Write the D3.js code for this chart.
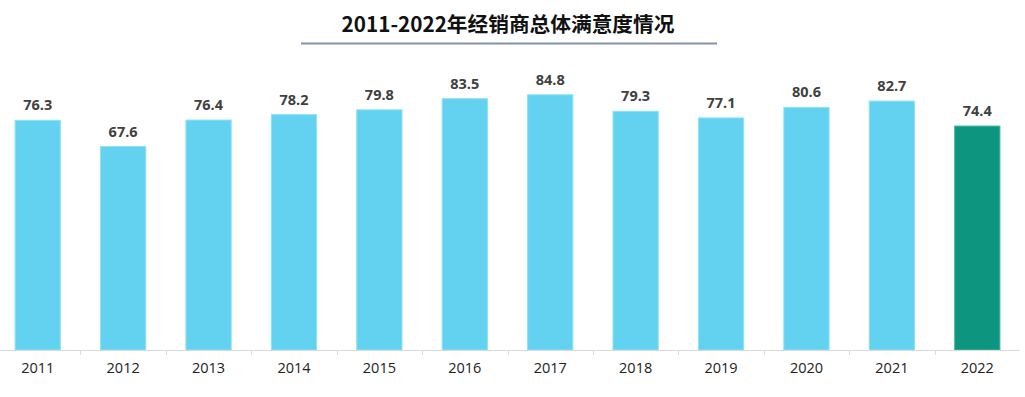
<!DOCTYPE html>
<html>
<head>
<meta charset="utf-8">
<script src="https://cdn.jsdelivr.net/npm/d3@7"></script>
<style>
  body { margin: 0; background: #fff; }
  svg { display: block; }
</style>
</head>
<body>
<div id="chart"></div>
<script>
var title = "2011-2022年经销商总体满意度情况";
var years = ["2011", "2012", "2013", "2014", "2015", "2016", "2017", "2018", "2019", "2020", "2021", "2022"];
var scores = [76.3, 67.6, 76.4, 78.2, 79.8, 83.5, 84.8, 79.3, 77.1, 80.6, 82.7, 74.4];

var width = 1025, height = 397;
var baseY = 350;

var svg = d3.select("#chart").append("svg")
    .attr("width", width)
    .attr("height", height);

// title + underline
svg.append("text")
    .attr("x", 508)
    .attr("y", 32)
    .attr("text-anchor", "middle")
    .style("font-family", "'Noto Sans CJK SC', 'Noto Sans', sans-serif")
    .style("font-weight", "bold")
    .style("font-size", "20.7px")
    .style("fill", "#111")
    .text(title);

svg.append("line")
    .attr("x1", 301).attr("x2", 717)
    .attr("y1", 43.5).attr("y2", 43.5)
    .style("stroke", "#8493ad")
    .style("stroke-width", 2);

var xScale = d3.scaleBand()
    .domain(years)
    .range([-5, 1020])
    .paddingInner(0.47)
    .paddingOuter(0.235);

var yScale = d3.scaleLinear()
    .domain([0, 100])
    .range([baseY, baseY - 301]);

var data = years.map(function(y, i) { return {year: y, value: scores[i]}; });

svg.selectAll(".bar")
    .data(data)
  .enter()
    .append("rect")
    .attr("class", "bar")
    .attr("x", function(d) { return xScale(d.year); })
    .attr("width", xScale.bandwidth())
    .attr("y", function(d) { return yScale(d.value); })
    .attr("height", function(d) { return baseY - yScale(d.value); })
    .style("fill", function(d) { return d.year === "2022" ? "#0d957f" : "#63d2f0"; })
    .style("stroke", function(d) { return d.year === "2022" ? "#3fb9a5" : "#8fe1f7"; })
    .style("stroke-width", 1);

svg.selectAll(".val")
    .data(data)
  .enter()
    .append("text")
    .attr("class", "val")
    .attr("x", function(d) { return xScale(d.year) + xScale.bandwidth() / 2; })
    .attr("y", function(d) { return yScale(d.value) - 10; })
    .attr("text-anchor", "middle")
    .style("font-family", "'Open Sans', 'Noto Sans', sans-serif")
    .style("font-weight", "bold")
    .style("font-size", "14.5px")
    .style("fill", "#404040")
    .text(function(d) { return d.value.toFixed(1); });

// x axis
var xAxis = d3.axisBottom(xScale).tickSize(0).tickPadding(13);
var axisG = svg.append("g")
    .attr("class", "x axis")
    .attr("transform", "translate(0," + baseY + ")")
    .call(xAxis);

axisG.select(".domain").remove();
axisG.selectAll("text")
    .style("font-family", "'Open Sans', 'Noto Sans', sans-serif")
    .style("font-size", "14.5px")
    .style("fill", "#222");

axisG.append("line")
    .attr("x1", 0).attr("x2", 1020)
    .attr("y1", 0.5).attr("y2", 0.5)
    .style("stroke", "#d9d9d9");

// separators between categories
var bounds = years.slice(1).map(function(y) { return xScale(y) - xScale.step() * xScale.paddingInner() / 2; });
axisG.selectAll(".sep")
    .data(bounds)
  .enter()
    .append("line")
    .attr("class", "sep")
    .attr("x1", function(d) { return Math.round(d) + 0.5; })
    .attr("x2", function(d) { return Math.round(d) + 0.5; })
    .attr("y1", 0).attr("y2", 5)
    .style("stroke", "#d9d9d9");
</script>
</body>
</html>
